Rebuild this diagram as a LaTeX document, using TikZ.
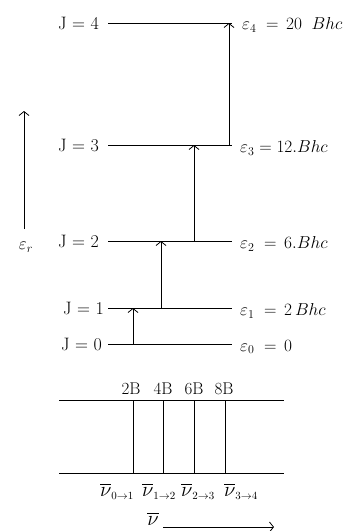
\documentclass[tikz,border=0pt]{standalone}
\usepackage{amsmath,amssymb}
\usetikzlibrary{arrows.meta,positioning}

\begin{document}
\begin{tikzpicture}[x=1pt,y=-1pt,
    lev/.style={line width=0.8pt},
    jlab/.style={anchor=east, inner sep=1pt, font=\fontsize{18}{20}\selectfont},
    elab/.style={anchor=west, inner sep=1pt, font=\fontsize{18}{20}\selectfont},
    blab/.style={anchor=south, inner sep=1pt, font=\fontsize{17}{19}\selectfont},
    nlab/.style={inner sep=1pt, font=\fontsize{18}{20}\selectfont},
    slab/.style={inner sep=1pt, font=\fontsize{21}{23}\selectfont},
    arr/.style={line width=0.8pt, -{Straight Barb[length=4pt,width=10pt]}}
]
\useasboundingbox (0,0) rectangle (348,531);

% energy levels
\coordinate (l4a) at (108,23);  \coordinate (l4b) at (232,23);
\coordinate (l3a) at (108,145); \coordinate (l3b) at (232,145);
\coordinate (l2a) at (108,241); \coordinate (l2b) at (232,241);
\coordinate (l1a) at (108,308); \coordinate (l1b) at (232,308);
\coordinate (l0a) at (108,344); \coordinate (l0b) at (232,344);
\draw[lev] (l4a) -- (l4b);
\draw[lev] (l3a) -- (l3b);
\draw[lev] (l2a) -- (l2b);
\draw[lev] (l1a) -- (l1b);
\draw[lev] (l0a) -- (l0b);

\node[jlab] (j4) at (100,23) {J = 4};
\node[jlab] (j3) at (100,145) {J = 3};
\node[jlab] (j2) at (100,241) {J = 2};
\node[jlab] (j1) at (105,308) {J = 1};
\node[jlab] (j0) at (103,344) {J = 0};

\node[elab] (e4) at (241,25) {$\varepsilon_4\;=\,20\;\;Bhc$};
\node[elab] (e3) at (239,148) {$\varepsilon_3=12.Bhc$};
\node[elab] (e2) at (239,244) {$\varepsilon_2\;=\,6.Bhc$};
\node[elab] (e1) at (239,311) {$\varepsilon_1\;=\,2\,Bhc$};
\node[elab] (e0) at (239,347) {$\varepsilon_0\;=\,0$};

% transitions
\coordinate (t01a) at (133,344); \coordinate (t01b) at (133,308);
\coordinate (t12a) at (161,308); \coordinate (t12b) at (161,241);
\coordinate (t23a) at (194,241); \coordinate (t23b) at (194,145);
\coordinate (t34a) at (229,145); \coordinate (t34b) at (229,23);
\draw[arr] (t01a) -- (t01b);
\draw[arr] (t12a) -- (t12b);
\draw[arr] (t23a) -- (t23b);
\draw[arr] (t34a) -- (t34b);

% energy axis
\coordinate (ax0) at (24,229);
\coordinate (ax1) at (24,111);
\draw[arr] (ax0) -- (ax1);
\node[nlab] (er) at (26,247) {$\varepsilon_r$};

% spectrum
\coordinate (s1a) at (59,400); \coordinate (s1b) at (284,400);
\coordinate (s2a) at (59,473); \coordinate (s2b) at (284,473);
\draw[lev] (s1a) -- (s1b);
\draw[lev] (s2a) -- (s2b);

\coordinate (p1a) at (133,400); \coordinate (p1b) at (133,473);
\coordinate (p2a) at (163,400); \coordinate (p2b) at (163,473);
\coordinate (p3a) at (194,400); \coordinate (p3b) at (194,473);
\coordinate (p4a) at (225,400); \coordinate (p4b) at (225,473);
\draw[lev] (p1a) -- (p1b);
\draw[lev] (p2a) -- (p2b);
\draw[lev] (p3a) -- (p3b);
\draw[lev] (p4a) -- (p4b);

\node[blab] (b2) at (131,396) {2B};
\node[blab] (b4) at (163,396) {4B};
\node[blab] (b6) at (194,396) {6B};
\node[blab] (b8) at (224,396) {8B};

\node[slab] (n01) at (117,491) {$\overline{\nu}_{\scriptscriptstyle 0\to1}$};
\node[slab] (n12) at (159,491) {$\overline{\nu}_{\scriptscriptstyle 1\to2}$};
\node[slab] (n23) at (198,491) {$\overline{\nu}_{\scriptscriptstyle 2\to3}$};
\node[slab] (n34) at (241,491) {$\overline{\nu}_{\scriptscriptstyle 3\to4}$};

\node[slab] (nu) at (153,519) {$\overline{\nu}$};
\coordinate (nx0) at (163,527);
\coordinate (nx1) at (274,527);
\draw[arr] (nx0) -- (nx1);
\end{tikzpicture}
\end{document}
